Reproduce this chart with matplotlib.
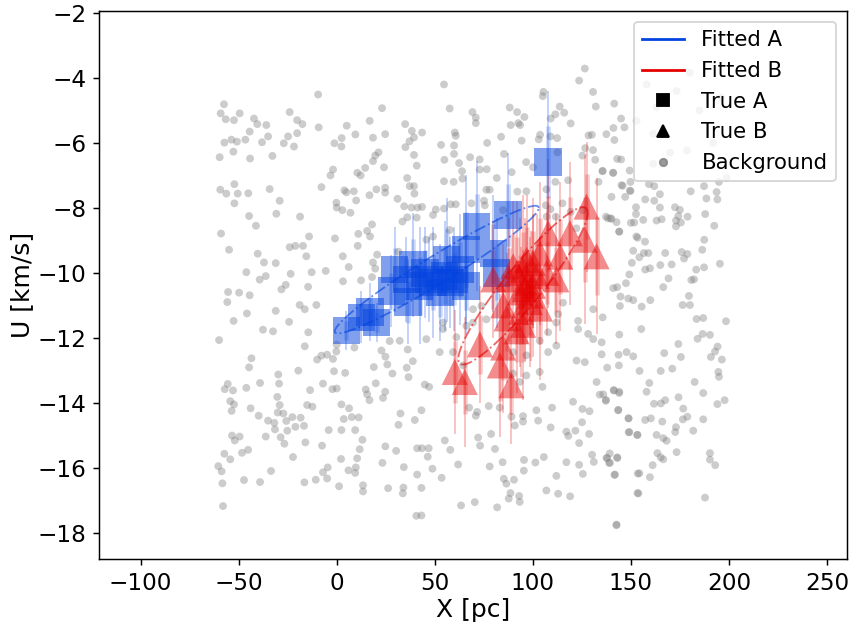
import numpy as np
import matplotlib
matplotlib.use("Agg")
import matplotlib.pyplot as plt
from matplotlib.lines import Line2D

# Background stars (X [pc], U [km/s])
bg_pts = [
    (-57.5,-4.81),(-59.2,-5.09),(-56.6,-5.27),(-52.4,-5.3),(-49.5,-5.09),(-42.2,-5.25),(-40.5,-5.42),(-35.9,-5.45),
    (-24.0,-5.05),(-20.2,-5.3),(-17.5,-5.42),(-9.5,-4.51),(-9.2,-5.52),(23.1,-4.93),(16.8,-5.32),(5.1,-5.47),
    (34.9,-5.42),(38.3,-5.63),(-44.4,-5.65),(-53.7,-5.9),(-50.9,-5.96),(-46.6,-5.9),(-57.3,-5.99),(-38.1,-5.98),
    (-35.0,-5.8),(-27.0,-6.01),(-24.8,-5.8),(-20.2,-5.7),(-21.8,-6.11),(-52.7,-6.27),(-59.7,-6.44),(-44.2,-6.48),
    (-32.8,-6.4),(-1.2,-6.01),(2.5,-5.85),(2.4,-6.11),(9.5,-5.74),(18.5,-5.84),(24.7,-5.73),(37.1,-5.95),
    (35.0,-6.13),(39.4,-5.83),(21.3,-6.29),(19.6,-6.39),(18.5,-6.56),(24.1,-6.75),(14.5,-6.77),(10.5,-6.92),
    (12.2,-7.0),(-1.9,-6.82),(-3.2,-7.0),(39.4,-6.37),(40.8,-6.7),(35.9,-7.08),(37.2,-7.33),(39.4,-7.33),
    (39.6,-7.56),(31.0,-7.72),(34.4,-7.95),(38.1,-7.99),(41.2,-7.99),(33.5,-8.42),(36.0,-8.29),(40.8,-8.3),
    (24.7,-7.38),(24.7,-7.53),(20.2,-7.43),(16.7,-7.61),(8.7,-7.49),(3.9,-7.46),(4.9,-7.52),(9.9,-7.77),
    (-0.2,-7.84),(0.0,-7.99),(2.9,-8.07),(7.0,-8.15),(-7.8,-7.36),(-34.2,-7.42),(-29.1,-7.78),(-30.8,-8.18),
    (-44.7,-8.25),(-41.2,-8.55),(-18.7,-8.27),(-59.4,-7.44),(-56.3,-7.56),(-52.2,-7.27),(-50.5,-7.56),(-45.1,-7.55),
    (-52.2,-7.86),(-59.0,-8.79),(-54.9,-9.29),(-40.3,-9.41),(-37.1,-9.68),(-31.1,-9.7),(-46.1,-9.98),(-39.3,-10.21),
    (-36.2,-10.1),(-24.0,-9.21),(-21.1,-9.17),(-17.2,-9.17),(-14.1,-8.88),(-15.5,-9.49),(-23.5,-10.03),(-12.8,-9.98),
    (-5.6,-9.94),(-0.9,-8.94),(3.1,-9.49),(6.1,-9.82),(10.7,-9.17),(11.0,-8.8),(15.5,-8.71),(17.0,-8.88),
    (18.0,-8.51),(20.6,-9.44),(18.5,-9.68),(19.6,-9.87),(18.0,-10.13),(31.5,-9.35),(12.4,-10.23),(3.2,-10.26),
    (-55.4,-10.59),(-49.8,-10.61),(-44.4,-10.69),(-55.8,-10.9),(-26.0,-10.37),(-28.2,-10.51),(-14.6,-10.43),(-10.4,-10.99),
    (-18.9,-10.99),(-16.3,-11.12),(-45.8,-11.25),(-31.1,-11.17),(-24.3,-11.51),(-52.6,-11.48),(-37.6,-11.75),(-32.5,-11.8),
    (-60.0,-12.07),(-14.5,-11.83),(-16.3,-12.26),(-10.0,-12.67),(-7.8,-12.55),(-4.9,-12.52),(-1.9,-12.65),(-0.2,-12.42),
    (-43.5,-12.63),(-44.7,-12.91),(-29.8,-13.13),(-19.6,-13.01),(-39.1,-13.39),(-29.4,-13.41),(-46.1,-13.54),(-57.1,-13.58),
    (-52.9,-13.62),(-55.6,-13.42),(-54.3,-13.95),(-52.4,-14.05),(-53.6,-14.25),(-43.9,-14.17),(-30.3,-13.82),(-29.1,-14.07),
    (-30.1,-14.3),(-27.2,-14.33),(-39.8,-14.4),(-35.0,-14.55),(-31.8,-14.62),(-31.5,-14.82),(-25.7,-14.56),(-22.6,-14.44),
    (-18.4,-14.46),(-21.1,-14.74),(-25.2,-14.86),(-16.7,-14.71),(-28.6,-15.06),(-26.7,-15.26),(-36.2,-15.04),(-53.4,-15.01),
    (-49.5,-15.04),(-52.0,-15.16),(-57.3,-15.57),(-54.3,-15.74),(-48.3,-15.54),(-45.2,-15.45),(-60.4,-15.95),(-58.7,-16.11),
    (-58.3,-16.48),(-47.3,-16.38),(-39.1,-16.44),(-33.5,-16.1),(-58.0,-17.18),(-22.3,-15.67),(-16.0,-15.22),(-7.0,-13.41),
    (-2.2,-13.58),(0.0,-13.56),(-13.6,-13.61),(-15.1,-14.07),(-12.4,-14.12),(-1.4,-13.03),(4.3,-13.08),(2.4,-14.05),
    (6.3,-14.17),(-4.1,-14.84),(2.4,-14.84),(3.6,-14.5),(7.7,-14.44),(11.2,-14.45),(9.4,-14.84),(-7.5,-15.32),
    (-16.5,-16.45),(-10.7,-16.37),(-4.9,-16.33),(-7.0,-16.14),(-4.6,-15.99),(2.2,-15.73),(6.0,-16.08),(9.4,-16.16),
    (9.7,-15.99),(10.4,-15.71),(11.7,-15.43),(13.1,-15.14),(1.2,-16.57),(13.4,-16.54),(13.4,-16.73),(26.2,-16.63),
    (34.0,-16.61),(33.7,-16.79),(23.3,-15.85),(24.8,-15.34),(30.3,-15.48),(34.2,-15.98),(32.5,-14.33),(31.5,-14.68),
    (39.8,-14.53),(23.6,-13.85),(14.8,-13.59),(15.5,-13.74),(16.7,-13.92),(19.9,-13.4),(24.7,-13.66),(18.9,-12.9),
    (28.4,-13.1),(35.7,-12.92),(36.6,-13.21),(38.8,-12.72),(36.2,-12.36),(32.1,-12.09),(27.0,-12.1),(22.8,-12.39),
    (24.8,-12.58),(25.8,-12.82),(9.0,-12.3),(0.0,-12.21),(40.6,-17.48),(41.0,-16.21),(41.0,-15.4),
    (126.5,-3.71),(123.6,-4.08),(130.7,-4.43),(132.1,-4.88),(141.5,-4.79),(145.0,-5.25),(141.1,-5.54),(146.7,-5.52),
    (137.5,-5.73),(141.6,-5.91),(130.1,-5.75),(128.4,-5.77),(126.7,-6.16),(125.3,-6.39),(131.8,-6.52),(143.0,-6.49),
    (145.0,-6.51),(149.4,-6.85),(135.5,-6.87),(140.9,-6.92),(133.5,-7.2),(145.2,-7.3),(149.8,-7.48),(147.1,-7.66),
    (140.1,-7.66),(138.2,-8.32),(140.1,-8.34),(144.0,-8.73),(150.0,-8.46),(152.8,-8.88),(54.7,-4.2),(57.6,-4.94),
    (69.2,-5.05),(70.9,-5.22),(70.9,-5.39),(60.2,-5.68),(60.7,-5.78),(59.8,-6.08),(59.8,-6.34),(54.9,-6.52),
    (62.4,-6.62),(63.9,-6.87),(53.2,-6.06),(43.5,-5.68),(68.0,-6.44),(72.9,-6.51),(72.9,-6.82),(76.5,-6.81),
    (76.7,-6.0),(81.6,-7.08),(85.3,-6.34),(83.8,-5.81),(88.2,-4.91),(92.0,-5.05),(95.7,-5.2),(92.6,-5.39),
    (93.5,-5.45),(88.7,-5.45),(94.3,-5.93),(89.2,-6.9),(96.6,-6.59),(100.1,-6.75),(103.0,-5.89),(103.7,-5.75),
    (109.0,-5.8),(112.4,-5.85),(105.1,-4.56),(105.4,-4.43),(109.1,-5.25),(111.5,-5.12),(113.7,-4.88),(116.0,-5.07),
    (119.3,-5.4),(112.5,-6.29),(111.5,-7.2),(106.9,-7.43),(118.0,-7.15),(115.1,-7.86),(106.6,-7.92),(109.0,-8.04),
    (111.7,-8.27),(107.1,-8.27),(96.7,-7.49),(92.1,-7.5),(84.8,-8.07),(78.0,-7.44),(76.3,-7.44),(68.7,-7.86),
    (75.1,-7.78),(75.5,-7.92),(60.7,-7.89),(58.1,-7.89),(54.7,-8.02),(49.1,-8.22),(50.5,-8.05),(43.5,-7.97),
    (64.1,-7.1),(59.6,-7.2),(54.7,-7.18),(57.6,-8.68),(49.1,-8.88),(45.7,-8.98),(130.7,-6.22),(125.6,-8.07),
    (119.3,-8.12),(122.2,-8.63),
    (44.9,-13.44),(47.1,-13.51),(43.2,-14.23),(67.5,-14.15),(71.6,-14.28),(70.9,-14.4),(77.5,-14.1),(83.1,-14.15),
    (89.1,-14.43),(90.8,-14.7),(95.0,-14.41),(95.0,-14.58),(104.9,-13.51),(101.8,-14.23),(109.8,-14.15),(102.7,-14.55),
    (109.1,-14.76),(120.5,-13.97),(125.3,-14.19),(128.9,-14.26),(134.1,-13.75),(137.2,-13.94),(141.3,-13.61),(144.0,-13.7),
    (143.5,-14.23),(148.8,-14.48),(148.9,-14.91),(153.2,-14.99),(125.1,-14.6),(121.7,-14.86),(117.1,-14.89),(118.1,-15.02),
    (123.6,-15.24),(128.7,-14.96),(55.1,-15.16),(57.9,-15.45),(72.1,-15.07),(73.1,-15.32),(78.7,-14.96),(80.7,-15.42),
    (43.5,-15.4),(46.9,-15.4),(46.4,-15.66),(48.8,-16.03),(53.5,-16.31),(61.9,-15.9),(43.2,-16.62),(78.0,-15.96),
    (84.6,-15.83),(95.5,-15.76),(95.4,-16.09),(101.3,-15.84),(105.6,-15.67),(117.1,-15.83),(123.6,-15.91),(125.5,-16.19),
    (130.2,-15.6),(131.1,-15.82),(137.9,-15.7),(139.2,-15.56),(138.9,-15.85),(143.1,-15.7),(141.6,-16.22),(153.5,-16.18),
    (112.0,-16.25),(85.2,-16.34),(86.5,-16.49),(90.4,-16.37),(88.6,-16.78),(87.7,-16.95),(93.0,-16.87),(93.3,-17.05),
    (106.9,-16.7),(112.9,-16.8),(119.0,-16.88),(153.4,-16.78),(63.4,-17.16),(70.4,-17.06),(81.8,-17.22),(142.6,-17.77),
    (43.2,-17.47),
    (135.6,-6.86),(141.0,-6.92),(145.8,-7.32),(149.8,-7.2),(149.5,-7.47),(159.2,-7.27),(161.9,-7.33),(164.8,-7.58),
    (157.3,-7.74),(161.9,-7.78),(164.8,-7.99),(152.6,-7.98),(152.6,-8.19),(151.7,-8.45),(137.3,-8.27),(139.6,-8.32),
    (142.7,-8.44),(144.1,-8.73),(156.3,-8.37),(163.1,-8.39),(165.7,-8.35),(172.5,-7.98),(175.0,-8.06),(174.2,-8.25),
    (178.9,-8.27),(173.0,-8.39),(173.0,-8.57),(175.5,-8.45),(180.5,-7.49),(187.3,-7.33),(188.5,-7.71),(193.7,-7.51),
    (194.1,-7.74),(194.9,-7.2),(198.8,-7.08),(187.9,-8.19),(192.5,-8.55),(187.4,-8.98),(186.4,-9.29),(187.3,-9.83),
    (183.3,-9.9),(182.2,-10.2),(180.8,-10.22),(195.4,-9.72),(175.9,-9.36),(178.8,-9.42),(177.1,-9.56),(167.5,-9.39),
    (170.8,-9.74),(165.0,-9.76),(158.9,-9.39),(156.6,-9.39),(154.3,-9.52),(157.3,-9.9),(159.7,-9.86),(151.2,-9.32),
    (153.4,-8.92),(157.2,-9.04),(150.5,-9.69),(149.2,-10.05),(147.5,-10.32),(141.0,-10.47),(143.0,-10.44),(144.7,-10.73),
    (144.4,-11.02),(148.7,-10.79),(151.2,-10.84),(155.5,-11.04),(159.9,-10.84),(166.5,-10.44),(169.2,-10.17),(179.6,-10.71),
    (176.4,-10.99),(180.1,-10.99),(183.5,-11.42),(186.9,-11.39),(198.5,-11.49),(186.6,-11.88),(190.3,-11.91),(184.0,-12.03),
    (174.2,-12.19),(175.5,-12.59),(167.0,-12.47),(165.2,-13.02),(171.1,-12.95),(155.3,-11.73),(144.1,-11.9),(143.7,-12.52),
    (147.8,-12.44),(151.2,-12.57),(143.9,-12.85),(137.9,-12.92),(154.4,-13.02),(159.4,-13.39),(158.0,-13.66),(161.8,-14.03),
    (165.3,-14.02),(167.5,-13.92),(174.3,-13.83),(176.7,-14.18),(178.8,-14.43),(176.5,-14.51),(182.5,-13.36),(186.9,-13.7),
    (194.2,-12.27),(192.9,-12.42),(190.8,-12.59),(196.4,-12.67),(194.6,-13.05),(194.9,-13.2),(194.1,-14.04),(197.8,-13.92),
    (141.3,-13.62),(144.1,-13.66),(137.3,-13.91),(143.6,-14.22),(148.8,-14.48),(157.3,-14.53),(160.2,-14.48),(166.0,-14.58),
    (173.0,-14.75),(172.6,-14.9),(181.8,-14.86),(186.9,-14.51),(149.2,-14.9),(153.4,-14.99),(163.1,-14.99),(166.5,-15.09),
    (168.2,-15.17),(163.5,-15.55),(165.2,-15.68),(166.5,-15.74),(173.3,-15.52),(137.6,-15.7),(139.3,-15.85),(143.0,-15.68),
    (141.9,-16.21),(154.3,-16.17),(159.7,-16.29),(161.1,-15.92),(190.3,-15.55),(190.3,-15.75),(193.0,-15.92),(153.8,-16.79),
    (187.8,-16.92),(142.7,-17.75),(135.6,-11.37),(135.1,-12.14),(135.1,-12.51),(135.9,-13.74),
    (112.9,-11.27),(112.0,-11.53),(123.1,-11.48),(123.1,-11.73),(128.2,-11.88),(130.8,-12.04),(126.5,-12.75),(122.3,-12.7),
    (132.5,-13.36),(107.8,-12.44),(112.0,-12.24),(103.5,-12.09),(96.7,-12.54),(96.7,-13.16),(103.5,-13.05),(107.8,-11.83),
    (54.2,-11.53),(54.2,-11.73),(52.5,-12.44),(61.0,-11.98),(59.3,-12.44),(73.8,-11.02),(69.5,-11.12),(66.1,-11.63),
    (69.5,-11.53),(76.3,-11.43),(64.4,-12.85),(89.9,-13.1),(93.3,-13.36),(115.4,-10.92),(130.8,-11.12),(89.9,-12.44),
    (45.7,-12.04),
    (161.4,-5.72),(173.3,-4.4),(178.6,-6.23),(161.4,-6.64),(180.0,-3.84),(152.9,-5.32),(163.0,-4.9),(185.0,-5.0),
    (192.0,-6.0),(170.0,-6.3),(196.0,-4.6),(158.0,-4.2),
]
bg_x = [p[0] for p in bg_pts]
bg_y = [p[1] for p in bg_pts]

# True members of group A (squares)
a_x = [4.9, 12.6, 20.3, 17.0, 29.6, 27.9, 36.4, 38.9, 35.5, 42.3, 49.0, 52.6, 56.0,
       62.8, 66.0, 66.0, 71.3, 79.8, 81.5, 87.4, 107.8, 45.0, 60.0, 47.0, 55.0, 58.0]
a_y = [-11.78, -11.37, -11.53, -11.2, -9.9, -10.56, -10.9, -9.75, -10.2, -10.4, -10.3, -10.6, -9.6,
       -9.9, -9.29, -10.4, -8.57, -9.4, -10.0, -8.22, -6.59, -10.0, -10.2, -10.2, -10.1, -10.3]
a_err = [0.6, 0.8, 0.6, 0.9, 1.3, 1.1, 1.3, 1.6, 1.3, 1.8, 1.7, 1.5, 1.9,
         1.7, 2.3, 1.5, 2.0, 1.8, 1.7, 1.9, 2.2, 1.4, 1.6, 1.3, 1.7, 1.4]

# True members of group B (triangles)
b_x = [127.4, 107.8, 118.9, 126.5, 132.5, 114.0, 103.6, 96.8, 95.0, 107.0, 112.0, 79.8,
       100.0, 93.4, 98.5, 84.9, 103.6, 86.6, 95.0, 91.7, 84.9, 73.0, 83.2, 60.2, 65.3,
       89.1, 100.0, 97.0, 92.0, 99.0, 102.0, 94.0, 96.0, 88.0, 90.0]
b_y = [-7.96, -8.78, -8.78, -8.98, -9.49, -9.5, -9.4, -9.6, -9.9, -10.0, -10.2, -10.2,
       -10.4, -10.6, -10.9, -11.0, -11.1, -11.4, -11.6, -11.8, -12.3, -12.2, -12.85, -13.05, -13.36,
       -13.46, -9.7, -10.3, -10.0, -10.7, -10.1, -11.2, -10.5, -10.2, -9.8]
b_err = [2.0, 2.3, 2.2, 2.6, 2.4, 2.3, 2.2, 2.0, 2.3, 1.9, 2.0, 1.8,
         2.2, 2.3, 2.0, 1.9, 2.2, 2.0, 2.3, 1.9, 2.0, 1.8, 2.2, 1.9, 2.0,
         1.8, 2.0, 1.9, 2.2, 2.0, 1.9, 2.0, 2.2, 1.9, 2.0]

# Fitted Gaussian components: centre and covariance in (X, U)
fit_a_mean = [51.0, -9.9]
fit_a_cov = [[2704.0, 98.8], [98.8, 3.86]]
fit_b_mean = [95.0, -10.4]
fit_b_cov = [[1089.0, 74.25], [74.25, 5.87]]

blue = '#0343df'
red = '#e50000'


def ellipse(mean, cov, n=200):
    t = np.linspace(0, 2 * np.pi, n)
    L = np.linalg.cholesky(np.array(cov))
    pts = L @ np.vstack([np.cos(t), np.sin(t)])
    return pts[0] + mean[0], pts[1] + mean[1]


plt.rcParams['font.size'] = 12.5

fig = plt.figure(figsize=(850 / 133, 632 / 133), dpi=133)
ax = fig.add_axes([0.117, 0.116, 0.879, 0.866])

ax.scatter(bg_x, bg_y, s=18, color='gray', alpha=0.4, edgecolors='none', zorder=1)

# error bars: thin full length plus a thicker inner part, gives the tapered look
ax.errorbar(a_x, a_y, yerr=a_err, fmt='none', ecolor=blue, elinewidth=1.0, alpha=0.25, zorder=2)
ax.errorbar(a_x, a_y, yerr=np.array(a_err) / 2, fmt='none', ecolor=blue, elinewidth=2.5, alpha=0.2, zorder=2)
ax.errorbar(b_x, b_y, yerr=b_err, fmt='none', ecolor=red, elinewidth=1.0, alpha=0.25, zorder=2)
ax.errorbar(b_x, b_y, yerr=np.array(b_err) / 2, fmt='none', ecolor=red, elinewidth=2.5, alpha=0.2, zorder=2)
ax.scatter(a_x, a_y, marker='s', s=220, color=blue, alpha=0.5, edgecolors='none', zorder=3)
ax.scatter(b_x, b_y, marker='^', s=200, color=red, alpha=0.45, edgecolors='none', zorder=3)

ex, ey = ellipse(fit_a_mean, fit_a_cov)
ax.plot(ex, ey, ls='-.', color=blue, lw=1, alpha=0.6, zorder=4)
ex, ey = ellipse(fit_b_mean, fit_b_cov)
ax.plot(ex, ey, ls='-.', color=red, lw=1, alpha=0.6, zorder=4)

ax.set_xlim(-121, 260)
ax.set_ylim(-18.8, -1.95)
ax.set_xticks([-100, -50, 0, 50, 100, 150, 200, 250])
ax.set_yticks([-18, -16, -14, -12, -10, -8, -6, -4, -2])
ax.set_xlabel('X [pc]', fontsize=13.5, labelpad=2)
ax.set_ylabel('U [km/s]', fontsize=13.5, labelpad=2)

handles = [
    Line2D([], [], color=blue, lw=1.5, label='Fitted A'),
    Line2D([], [], color=red, lw=1.5, label='Fitted B'),
    Line2D([], [], color='k', marker='s', ls='none', markersize=7, label='True A'),
    Line2D([], [], color='k', marker='^', ls='none', markersize=7, label='True B'),
    Line2D([], [], color='gray', marker='o', ls='none', markersize=4, alpha=0.8, label='Background'),
]
ax.legend(handles=handles, loc='upper right', fontsize=11.5)

fig.savefig('out.png', dpi=133)
